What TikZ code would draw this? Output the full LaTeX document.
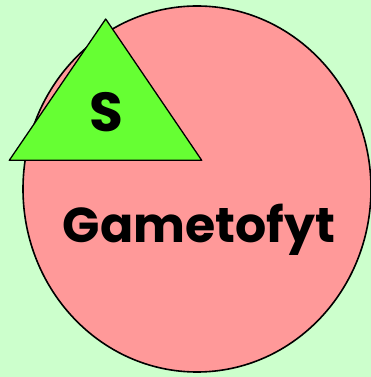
\documentclass[tikz,border=0pt]{standalone}
\usepackage{fontspec}
\setsansfont{Poppins}
\usepackage{tikz}
\usetikzlibrary{positioning}
\definecolor{mbg}{HTML}{CCFFCC}
\definecolor{mpink}{HTML}{FF9999}
\definecolor{mgreen}{HTML}{66FF33}
\tikzset{
  every node/.style={font=\sffamily\bfseries},
  cell/.style={fill=mpink, draw=black, line width=1.6pt},
  tri/.style ={fill=mgreen, draw=black, line width=1.3pt, line join=round},
  lbl/.style ={font=\sffamily\bfseries\fontsize{49}{49}\selectfont, inner sep=0pt, text=black},
}

\begin{document}
\begin{tikzpicture}[x=1pt, y=1pt]

% ---------------- background --------------------------------------------------
\fill[mbg] (0,0) rectangle (371,377);
\useasboundingbox (0,0) rectangle (371,377);

% ---------------- gametophyte cell --------------------------------------------
\draw[cell] (197,188) ellipse [x radius=174, y radius=183];
\node[lbl, anchor=base] (gam) at (199,134) {Gametofyt};

% ---------------- sporophyte --------------------------------------------------
\coordinate (tA) at (105.7,358);
\coordinate (tB) at (9.3,216.7);
\coordinate (tC) at (201.7,216.7);
\draw[tri] (tA) -- (tB) -- (tC) -- cycle;
\node[lbl, font=\sffamily\bfseries\fontsize{55}{55}\selectfont] (spo) at (106,265) {S};

\end{tikzpicture}
\end{document}
